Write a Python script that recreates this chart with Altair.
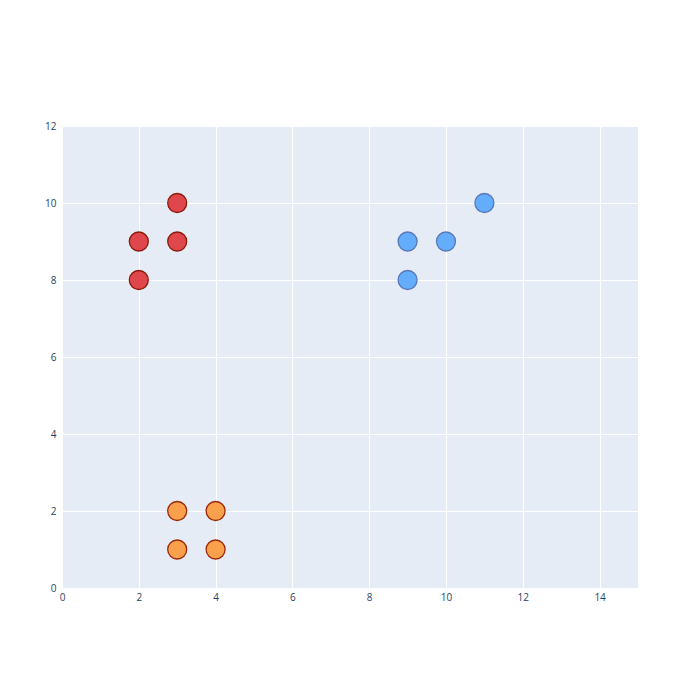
import altair as alt
import pandas as pd

xs = [2, 2, 3, 3, 3, 4, 3, 4, 9, 9, 10, 11]
ys = [8, 9, 9, 10, 1, 1, 2, 2, 8, 9, 9, 10]
groups = ["red"] * 4 + ["orange"] * 4 + ["blue"] * 4

fills = {"red": "#e0474c", "orange": "#f8a04c", "blue": "#64acfc"}
strokes = {"red": "#8b1a0a", "orange": "#9a2a0a", "blue": "#5a78b8"}

df = pd.DataFrame({"x": xs, "y": ys, "g": groups})

dom = ["red", "orange", "blue"]

chart = alt.Chart(df).mark_point(filled=True, shape="circle", size=360, strokeWidth=1.3, opacity=1).encode(
    x=alt.X("x:Q", scale=alt.Scale(domain=[0, 15], nice=False, zero=False),
            axis=alt.Axis(values=[0, 2, 4, 6, 8, 10, 12, 14], title=None)),
    y=alt.Y("y:Q", scale=alt.Scale(domain=[0, 12], nice=False, zero=False),
            axis=alt.Axis(values=[0, 2, 4, 6, 8, 10, 12], title=None)),
    fill=alt.Fill("g:N", scale=alt.Scale(domain=dom, range=[fills[d] for d in dom]), legend=None),
    stroke=alt.Stroke("g:N", scale=alt.Scale(domain=dom, range=[strokes[d] for d in dom]), legend=None),
).properties(
    width=576, height=462,
    autosize=alt.AutoSizeParams(type="none"),
    padding={"left": 54, "top": 118, "right": 54, "bottom": 104},
).configure_view(
    fill="#e5ecf6", stroke=None
).configure_axis(
    grid=True, gridColor="white", gridWidth=1, domain=False, ticks=False, labelFlush=False,
    labelColor="#2a3f5f", labelFont="Open Sans", labelFontSize=10, labelPadding=4,
).configure_axisY(labelPadding=6)

chart.save("out.html", embed_options={"renderer": "svg", "actions": False})
